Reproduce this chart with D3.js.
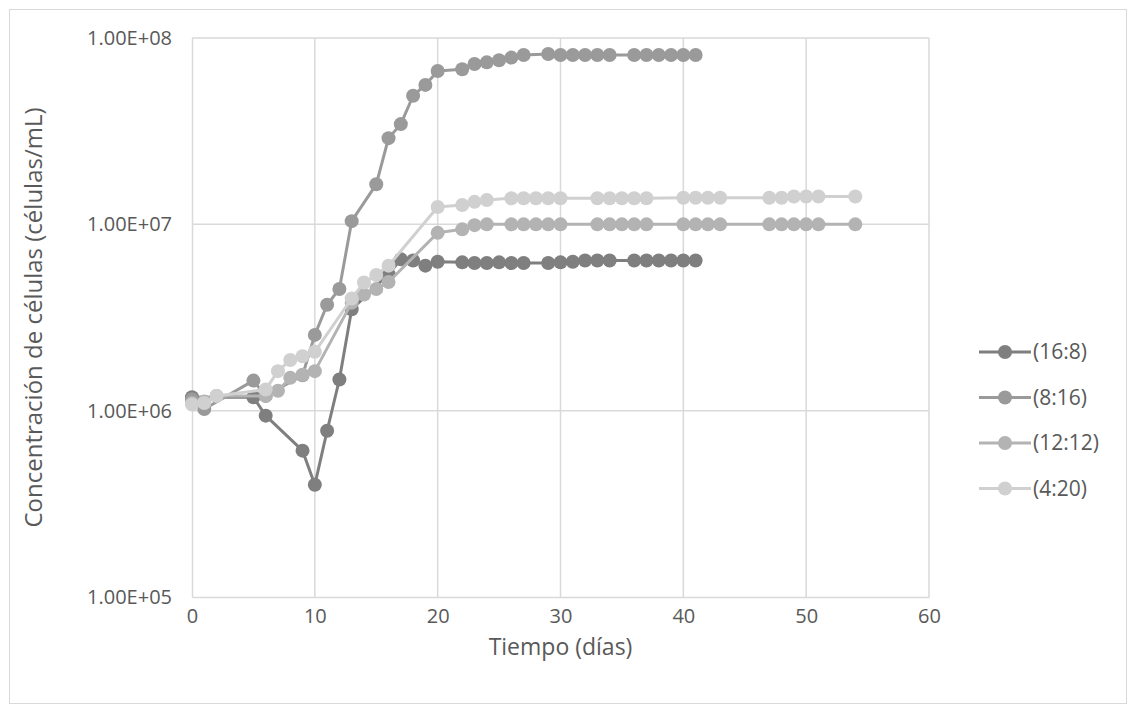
<!DOCTYPE html>
<html>
<head>
<meta charset="utf-8">
<script src="https://cdn.jsdelivr.net/npm/d3@7"></script>
<style>
  body { margin: 0; background: #fff; }
  text { font-family: "Open Sans", "Noto Sans", sans-serif; fill: #595959; }
</style>
</head>
<body>
<svg id="chart"></svg>
<script>
// series names (legend)
var seriesNames = ["(16:8)", "(8:16)", "(12:12)", "(4:20)"];

// days + concentration (cells/mL) per series
var days_16_8 = [0, 5, 6, 9, 10, 11, 12, 13, 16, 17, 18, 19, 20, 22, 23, 24, 25, 26, 27, 29, 30, 31, 32, 33, 34, 36, 37, 38, 39, 40, 41];
var vals_16_8 = [1.18e6, 1.18e6, 9.4e5, 6.1e5, 4.0e5, 7.8e5, 1.47e6, 3.5e6, 5.4e6, 6.5e6, 6.4e6, 6.0e6, 6.3e6, 6.25e6, 6.2e6, 6.2e6, 6.25e6, 6.2e6, 6.2e6, 6.2e6, 6.25e6, 6.3e6, 6.4e6, 6.4e6, 6.4e6, 6.4e6, 6.4e6, 6.4e6, 6.4e6, 6.4e6, 6.4e6];

var days_8_16 = [0, 1, 5, 6, 9, 10, 11, 12, 13, 15, 16, 17, 18, 19, 20, 22, 23, 24, 25, 26, 27, 29, 30, 31, 32, 33, 34, 36, 37, 38, 39, 40, 41];
var vals_8_16 = [1.15e6, 1.02e6, 1.45e6, 1.2e6, 1.55e6, 2.55e6, 3.7e6, 4.5e6, 1.04e7, 1.64e7, 2.9e7, 3.45e7, 4.9e7, 5.6e7, 6.65e7, 6.8e7, 7.25e7, 7.4e7, 7.6e7, 7.85e7, 8.1e7, 8.2e7, 8.1e7, 8.1e7, 8.1e7, 8.1e7, 8.1e7, 8.1e7, 8.1e7, 8.1e7, 8.1e7, 8.1e7, 8.1e7];

var days_12_12 = [0, 1, 2, 6, 7, 8, 9, 10, 13, 14, 15, 16, 20, 22, 23, 24, 26, 27, 28, 29, 30, 33, 34, 35, 36, 37, 40, 41, 42, 43, 47, 48, 49, 50, 51, 54];
var vals_12_12 = [1.1e6, 1.12e6, 1.2e6, 1.2e6, 1.28e6, 1.5e6, 1.56e6, 1.63e6, 3.8e6, 4.2e6, 4.5e6, 4.9e6, 9.0e6, 9.4e6, 9.9e6, 1.0e7, 1.0e7, 1.0e7, 1.0e7, 1.0e7, 1.0e7, 1.0e7, 1.0e7, 1.0e7, 1.0e7, 1.0e7, 1.0e7, 1.0e7, 1.0e7, 1.0e7, 1.0e7, 1.0e7, 1.0e7, 1.0e7, 1.0e7, 1.0e7];

var days_4_20 = [0, 1, 2, 6, 7, 8, 9, 10, 13, 14, 15, 16, 20, 22, 23, 24, 26, 27, 28, 29, 30, 33, 34, 35, 36, 37, 40, 41, 42, 43, 47, 48, 49, 50, 51, 54];
var vals_4_20 = [1.08e6, 1.1e6, 1.2e6, 1.3e6, 1.63e6, 1.87e6, 1.96e6, 2.07e6, 4.0e6, 4.87e6, 5.35e6, 6.0e6, 1.24e7, 1.27e7, 1.32e7, 1.35e7, 1.38e7, 1.38e7, 1.38e7, 1.38e7, 1.38e7, 1.38e7, 1.38e7, 1.38e7, 1.38e7, 1.38e7, 1.39e7, 1.39e7, 1.39e7, 1.39e7, 1.39e7, 1.39e7, 1.41e7, 1.41e7, 1.41e7, 1.41e7];

var xTicks = [0, 10, 20, 30, 40, 50, 60];
var yTicks = [1e5, 1e6, 1e7, 1e8];
var yTickLabels = ["1.00E+05", "1.00E+06", "1.00E+07", "1.00E+08"];

var colors = ["#7f7f7f", "#9a9a9a", "#b3b3b3", "#d0d0d0"];

var series = [
  { name: seriesNames[0], days: days_16_8, vals: vals_16_8 },
  { name: seriesNames[1], days: days_8_16, vals: vals_8_16 },
  { name: seriesNames[2], days: days_12_12, vals: vals_12_12 },
  { name: seriesNames[3], days: days_4_20, vals: vals_4_20 }
];

var W = 1136, H = 713;
var margin = { top: 38, left: 192, right: 1136 - 929, bottom: 713 - 597 };

var svg = d3.select('#chart').attr('width', W).attr('height', H);

// outer chart border
svg.append('rect')
  .attr('x', 9.5).attr('y', 9.5)
  .attr('width', W - 19).attr('height', H - 19)
  .attr('fill', '#fff')
  .attr('stroke', '#d9d9d9');

var x = d3.scaleLinear().domain([0, 60]).range([margin.left, W - margin.right]);
var y = d3.scaleLog().domain([1e5, 1e8]).range([H - margin.bottom, margin.top]);

// gridlines
svg.append('g').selectAll('line.v')
  .data(xTicks.slice(1))
  .enter().append('line')
  .attr('x1', d => x(d)).attr('x2', d => x(d))
  .attr('y1', y(1e8)).attr('y2', y(1e5))
  .attr('stroke', '#d9d9d9').attr('stroke-width', 1.5);

svg.append('g').selectAll('line.h')
  .data(yTicks.slice(1))
  .enter().append('line')
  .attr('x1', x(0)).attr('x2', x(60))
  .attr('y1', d => y(d)).attr('y2', d => y(d))
  .attr('stroke', '#d9d9d9').attr('stroke-width', 1.5);

// axes
var xAxis = svg.append('g')
  .attr('transform', `translate(0, ${y(1e5)})`)
  .call(d3.axisBottom(x).tickValues(xTicks).tickSize(0).tickPadding(12));
xAxis.select('.domain').attr('stroke', '#d9d9d9').attr('stroke-width', 1.5);
xAxis.selectAll('text').style('font-size', '20px').attr('fill', '#595959');

var yAxis = svg.append('g')
  .attr('transform', `translate(${x(0)}, 0)`)
  .call(d3.axisLeft(y).tickValues(yTicks).tickSize(0).tickPadding(20)
    .tickFormat((d, i) => yTickLabels[i]));
yAxis.select('.domain').attr('stroke', '#d9d9d9').attr('stroke-width', 1.5);
yAxis.selectAll('text').style('font-size', '20px').attr('fill', '#595959');

// axis titles
svg.append('text')
  .attr('x', (x(0) + x(60)) / 2)
  .attr('y', 655)
  .attr('text-anchor', 'middle')
  .style('font-size', '23px')
  .text('Tiempo (días)');

svg.append('text')
  .attr('transform', `translate(42, ${(y(1e5) + y(1e8)) / 2}) rotate(-90)`)
  .attr('text-anchor', 'middle')
  .style('font-size', '24px')
  .text('Concentración de células (células/mL)');

// lines + markers
var line = d3.line()
  .x(d => x(d[0]))
  .y(d => y(d[1]));

series.forEach(function(s, i) {
  var pts = s.days.map((d, j) => [d, s.vals[j]]);
  var g = svg.append('g');
  g.append('path')
    .datum(pts)
    .attr('d', line)
    .attr('fill', 'none')
    .attr('stroke', colors[i])
    .attr('stroke-width', 3)
    .attr('stroke-linejoin', 'round');
  g.selectAll('circle')
    .data(pts)
    .enter().append('circle')
    .attr('cx', d => x(d[0]))
    .attr('cy', d => y(d[1]))
    .attr('r', 7)
    .attr('fill', colors[i]);
});

// legend
var legend = svg.append('g').attr('transform', 'translate(979, 352)');
seriesNames.forEach(function(n, i) {
  var g = legend.append('g').attr('transform', `translate(0, ${i * 45.5})`);
  g.append('line')
    .attr('x1', 0).attr('x2', 52)
    .attr('stroke', colors[i]).attr('stroke-width', 3);
  g.append('circle')
    .attr('cx', 26).attr('r', 7).attr('fill', colors[i]);
  g.append('text')
    .attr('x', 54).attr('dy', '0.35em')
    .style('font-size', '21px')
    .text(n);
});
</script>
</body>
</html>
